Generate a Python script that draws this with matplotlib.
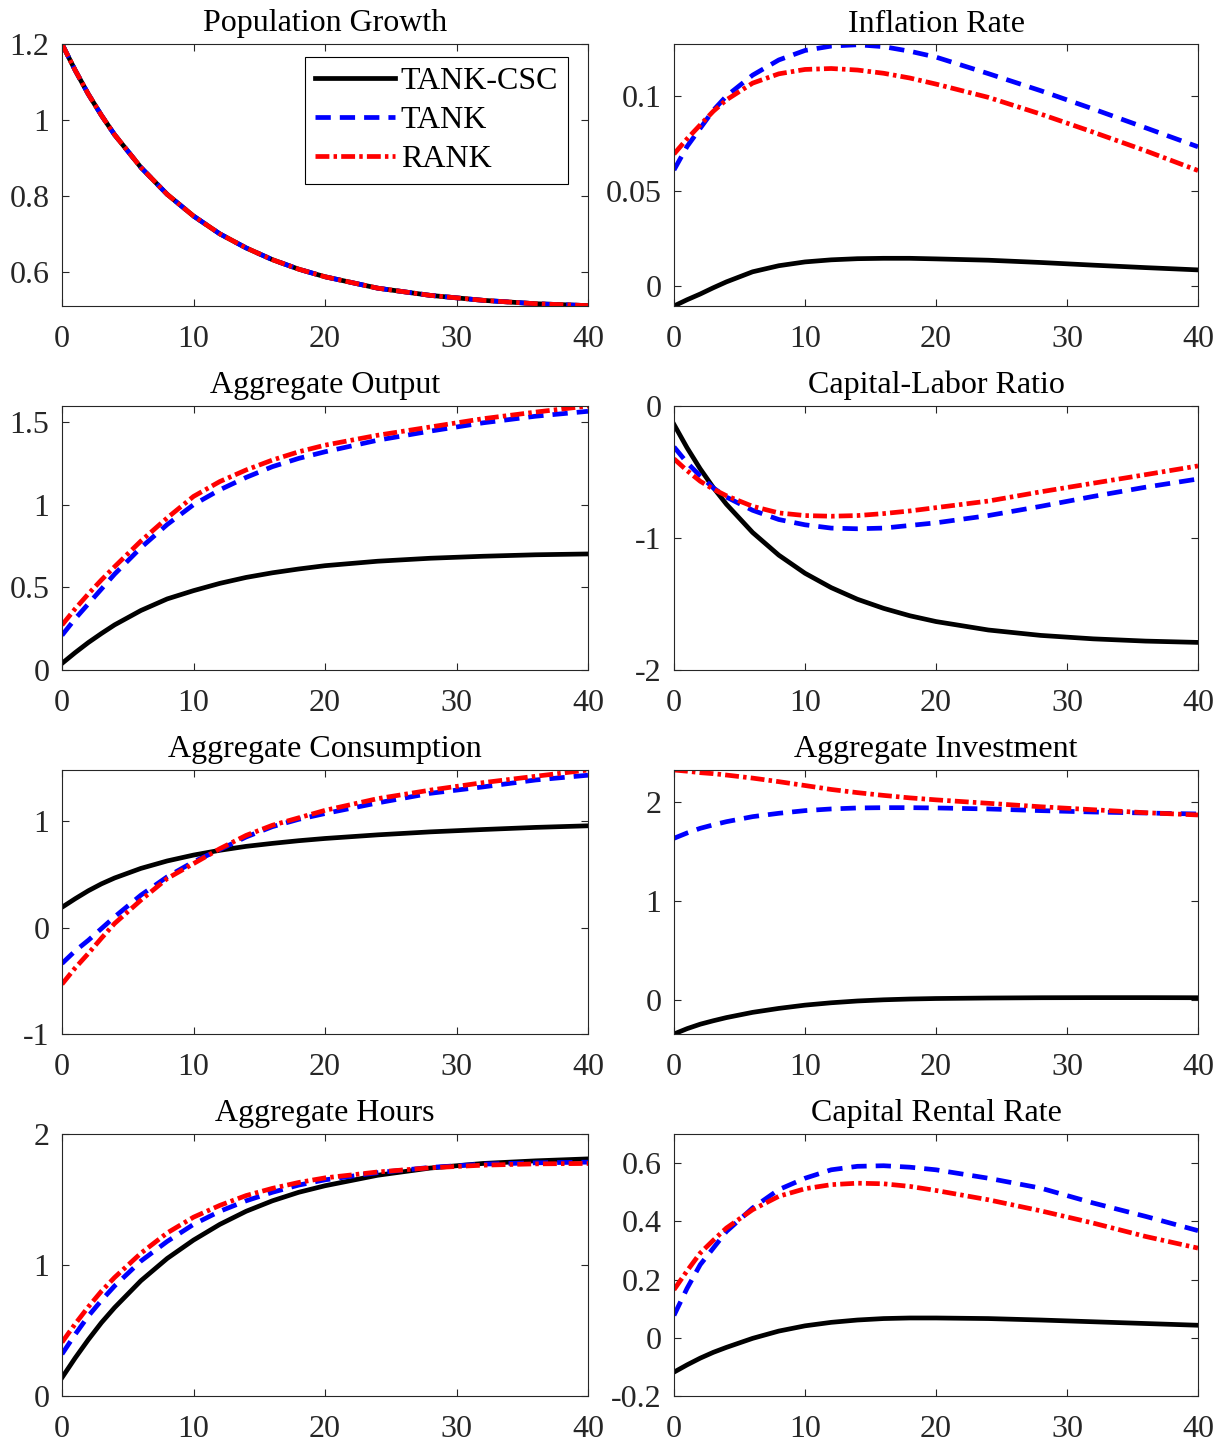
import numpy as np
import matplotlib
matplotlib.use('Agg')
import matplotlib.pyplot as plt
from matplotlib.ticker import FixedLocator, FixedFormatter

plt.rcParams['font.family'] = ['Liberation Serif', 'DejaVu Serif']
plt.rcParams['axes.unicode_minus'] = False
plt.rcParams['lines.scale_dashes'] = False

# periods (quarters)
t = [0, 1, 2, 3, 4, 6, 8, 10, 12, 14, 16, 18, 20, 24, 28, 32, 36, 40]

titles = ['Population Growth', 'Inflation Rate', 'Aggregate Output', 'Capital-Labor Ratio',
          'Aggregate Consumption', 'Aggregate Investment', 'Aggregate Hours', 'Capital Rental Rate']
models = ['TANK-CSC', 'TANK', 'RANK']

# impulse responses
pop_csc = [1.2, 1.131, 1.068, 1.012, 0.961, 0.875, 0.804, 0.747, 0.700, 0.663, 0.632, 0.607, 0.587, 0.557, 0.538, 0.525, 0.516, 0.511]
pop_tank = pop_csc
pop_rank = pop_csc

infl_csc = [-0.0105, -0.0072, -0.0042, -0.0009, 0.0022, 0.0075, 0.0107, 0.0127, 0.0138, 0.0144, 0.0146, 0.0146, 0.0143, 0.0136, 0.0124, 0.0110, 0.0097, 0.0085]
infl_tank = [0.0611, 0.0735, 0.0830, 0.0925, 0.1000, 0.1110, 0.1190, 0.1240, 0.1263, 0.1270, 0.1260, 0.1236, 0.1205, 0.1118, 0.1028, 0.0932, 0.0833, 0.0733]
infl_rank = [0.0695, 0.0775, 0.0848, 0.0920, 0.0980, 0.1068, 0.1117, 0.1140, 0.1145, 0.1137, 0.1120, 0.1095, 0.1063, 0.0993, 0.0905, 0.0810, 0.0712, 0.0608]

out_csc = [0.04, 0.105, 0.166, 0.221, 0.273, 0.360, 0.430, 0.480, 0.524, 0.560, 0.588, 0.611, 0.631, 0.658, 0.676, 0.688, 0.697, 0.702]
out_tank = [0.21, 0.31, 0.40, 0.49, 0.58, 0.74, 0.88, 1.00, 1.09, 1.165, 1.23, 1.28, 1.32, 1.39, 1.445, 1.495, 1.535, 1.565]
out_rank = [0.272, 0.37, 0.46, 0.545, 0.625, 0.78, 0.92, 1.05, 1.14, 1.21, 1.27, 1.32, 1.36, 1.42, 1.47, 1.52, 1.56, 1.597]

kl_csc = [-0.14, -0.317, -0.476, -0.618, -0.744, -0.958, -1.130, -1.267, -1.376, -1.464, -1.533, -1.589, -1.633, -1.697, -1.738, -1.764, -1.781, -1.791]
kl_tank = [-0.31, -0.43, -0.53, -0.62, -0.69, -0.79, -0.86, -0.90, -0.925, -0.93, -0.925, -0.905, -0.885, -0.83, -0.76, -0.685, -0.615, -0.553]
kl_rank = [-0.40, -0.49, -0.57, -0.63, -0.68, -0.76, -0.81, -0.83, -0.835, -0.83, -0.815, -0.795, -0.77, -0.72, -0.65, -0.585, -0.52, -0.454]

cons_csc = [0.19, 0.27, 0.345, 0.41, 0.465, 0.555, 0.625, 0.68, 0.725, 0.762, 0.79, 0.815, 0.836, 0.87, 0.898, 0.92, 0.94, 0.955]
cons_tank = [-0.338, -0.22, -0.12, -0.01, 0.10, 0.304, 0.476, 0.617, 0.732, 0.85, 0.947, 1.016, 1.07, 1.17, 1.26, 1.32, 1.385, 1.43]
cons_rank = [-0.532, -0.38, -0.244, -0.10, 0.038, 0.257, 0.46, 0.60, 0.74, 0.865, 0.96, 1.03, 1.10, 1.21, 1.29, 1.36, 1.42, 1.479]

inv_csc = [-0.344, -0.29, -0.245, -0.21, -0.178, -0.125, -0.085, -0.052, -0.028, -0.01, 0.002, 0.01, 0.015, 0.02, 0.023, 0.024, 0.024, 0.023]
inv_tank = [1.636, 1.69, 1.737, 1.772, 1.804, 1.855, 1.889, 1.916, 1.933, 1.943, 1.946, 1.946, 1.943, 1.933, 1.916, 1.902, 1.892, 1.882]
inv_rank = [2.327, 2.315, 2.30, 2.29, 2.276, 2.245, 2.209, 2.17, 2.13, 2.098, 2.07, 2.045, 2.025, 1.99, 1.955, 1.925, 1.895, 1.872]

hrs_csc = [0.14, 0.29, 0.43, 0.56, 0.675, 0.88, 1.05, 1.19, 1.31, 1.41, 1.49, 1.555, 1.605, 1.685, 1.74, 1.775, 1.795, 1.81]
hrs_tank = [0.32, 0.47, 0.61, 0.73, 0.84, 1.03, 1.18, 1.31, 1.41, 1.49, 1.555, 1.61, 1.65, 1.705, 1.745, 1.77, 1.78, 1.785]
hrs_rank = [0.41, 0.55, 0.68, 0.80, 0.905, 1.09, 1.245, 1.365, 1.455, 1.53, 1.585, 1.63, 1.665, 1.71, 1.742, 1.762, 1.772, 1.775]

rent_csc = [-0.118, -0.093, -0.07, -0.05, -0.033, -0.002, 0.023, 0.041, 0.053, 0.061, 0.066, 0.068, 0.068, 0.066, 0.061, 0.055, 0.049, 0.043]
rent_tank = [0.077, 0.17, 0.251, 0.308, 0.365, 0.446, 0.509, 0.548, 0.577, 0.589, 0.591, 0.586, 0.577, 0.548, 0.514, 0.463, 0.417, 0.368]
rent_rank = [0.165, 0.23, 0.291, 0.335, 0.377, 0.44, 0.486, 0.512, 0.526, 0.531, 0.529, 0.52, 0.506, 0.474, 0.436, 0.394, 0.348, 0.308]

series = [
    (pop_csc, pop_tank, pop_rank),
    (infl_csc, infl_tank, infl_rank),
    (out_csc, out_tank, out_rank),
    (kl_csc, kl_tank, kl_rank),
    (cons_csc, cons_tank, cons_rank),
    (inv_csc, inv_tank, inv_rank),
    (hrs_csc, hrs_tank, hrs_rank),
    (rent_csc, rent_tank, rent_rank),
]

ylims = [(0.51, 1.2), (-0.0105, 0.1274), (0, 1.597), (-2, 0),
         (-1, 1.479), (-0.344, 2.327), (0, 2), (-0.2, 0.7)]
yticks = [[0.6, 0.8, 1.0, 1.2], [0, 0.05, 0.1], [0, 0.5, 1, 1.5], [-2, -1, 0],
          [-1, 0, 1], [0, 1, 2], [0, 1, 2], [-0.2, 0, 0.2, 0.4, 0.6]]
ylabels = [['0.6', '0.8', '1', '1.2'], ['0', '0.05', '0.1'], ['0', '0.5', '1', '1.5'], ['-2', '-1', '0'],
           ['-1', '0', '1'], ['0', '1', '2'], ['0', '1', '2'], ['-0.2', '0', '0.2', '0.4', '0.6']]
xticks = [0, 10, 20, 30, 40]
xlabels = ['0', '10', '20', '30', '40']

W, H = 1225, 1443
fig = plt.figure(figsize=(W / 100, H / 100), dpi=100)

cols = [(62, 588), (674, 1198)]
rows = [(44, 306), (406, 670), (770, 1034), (1134, 1396)]

tick_col = (0.15, 0.15, 0.15)
styles = [
    dict(color='black', linestyle='-', lw=3.4),
    dict(color='blue', linestyle=(0, (11, 6.5)), lw=3.4),
    dict(color='red', linestyle=(0, (10, 3, 2.5, 3)), lw=3.4),
]

for i in range(8):
    r, c = divmod(i, 2)
    x0, x1 = cols[c]
    y0, y1 = rows[r]
    ax = fig.add_axes([x0 / W, 1 - y1 / H, (x1 - x0) / W, (y1 - y0) / H])
    for k, s in enumerate(series[i]):
        ax.plot(t, s, label=models[k], solid_joinstyle='round', **styles[k])
    ax.set_xlim(0, 40)
    ax.set_ylim(*ylims[i])
    ax.xaxis.set_major_locator(FixedLocator(xticks))
    ax.xaxis.set_major_formatter(FixedFormatter(xlabels))
    ax.yaxis.set_major_locator(FixedLocator(yticks[i]))
    ax.yaxis.set_major_formatter(FixedFormatter(ylabels[i]))
    ax.tick_params(direction='in', length=5, width=0.8, colors=tick_col, labelsize=23,
                   top=True, right=True)
    ax.tick_params(axis='x', pad=14)
    ax.tick_params(axis='y', pad=9)
    for sp in ax.spines.values():
        sp.set_color(tick_col)
        sp.set_linewidth(0.8)
    ax.set_title(titles[i], fontsize=23, pad=9)
    if i == 0:
        leg = ax.legend(loc='upper right', bbox_to_anchor=(0.962, 0.950), borderaxespad=0,
                        fontsize=23, handlelength=2.5, handletextpad=0.2, labelspacing=0.3,
                        borderpad=0.3, fancybox=False, framealpha=1, edgecolor='black')
        leg.get_frame().set_linewidth(0.8)

fig.savefig('out.png', dpi=100)
